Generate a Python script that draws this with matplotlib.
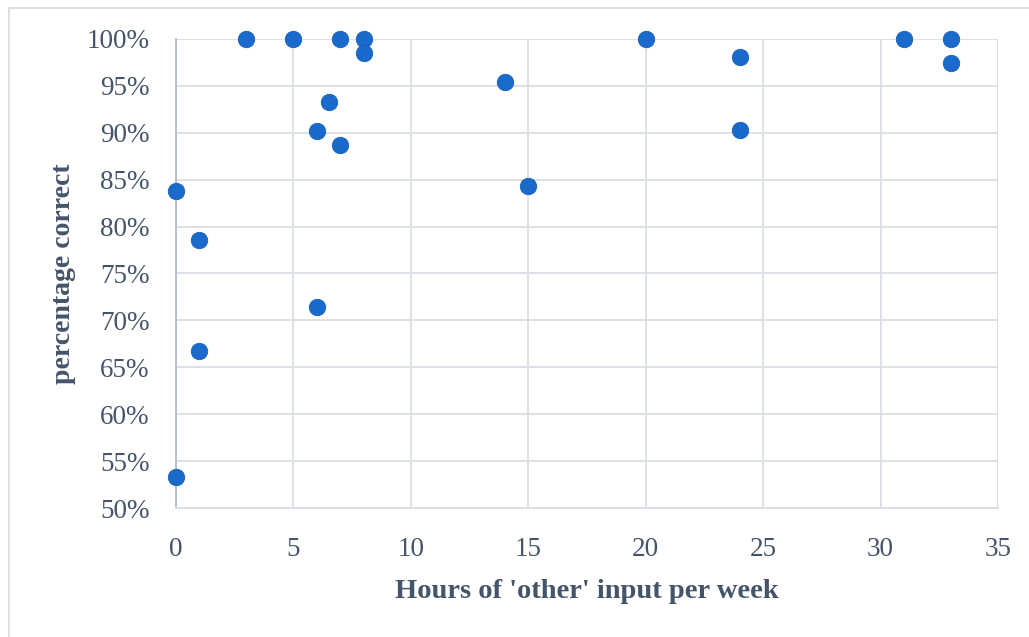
import matplotlib
matplotlib.use('Agg')
import matplotlib.pyplot as plt
from matplotlib.patches import Rectangle
from matplotlib.ticker import FuncFormatter

hours = [3, 5, 7, 8, 8, 6.5, 6, 7, 0, 1, 6, 1, 0, 14, 15, 20, 24, 24, 31, 33, 33]
correct = [100, 100, 100, 100, 98.5, 93.3, 90.2, 88.7, 83.8, 78.6, 71.4, 66.7, 53.3,
           95.4, 84.3, 100, 98.1, 90.3, 100, 100, 97.4]
x_ticks = [0, 5, 10, 15, 20, 25, 30, 35]
y_ticks = [50, 55, 60, 65, 70, 75, 80, 85, 90, 95, 100]

txt = '#44546A'
grid_c = '#D9DEE6'

plt.rcParams['font.family'] = ['Liberation Serif', 'DejaVu Serif']

fig = plt.figure(figsize=(10.29, 6.37), dpi=100)
fig.patches.append(Rectangle((9 / 1029, -0.1), 1.2, 1.1 - 8 / 637, transform=fig.transFigure,
                             fill=False, edgecolor='#D9D9D9', linewidth=1.2))

ax = fig.add_axes([176 / 1029, 1 - 508 / 637, 822 / 1029, 469 / 637])
ax.set_xlim(0, 35)
ax.set_ylim(50, 100)
ax.set_xticks(x_ticks)
ax.set_yticks(y_ticks)
ax.yaxis.set_major_formatter(FuncFormatter(lambda v, p: '%d%%' % v))
ax.grid(True, color=grid_c, linewidth=1.3)
ax.set_axisbelow(True)
for s in ['top', 'right']:
    ax.spines[s].set_visible(False)
ax.spines['bottom'].set_color(grid_c)
ax.spines['bottom'].set_linewidth(1.3)
ax.spines['left'].set_color('#AFBBCB')
ax.spines['left'].set_linewidth(1.3)
ax.tick_params(length=0, labelsize=19.5, labelcolor=txt)
ax.tick_params(axis='y', pad=19)
ax.tick_params(axis='x', pad=21)

ax.scatter(hours, correct, s=140, color='#1A6ACB', edgecolors='#1660B8', linewidths=0.6,
           zorder=3, clip_on=False)

ax.set_xlabel("Hours of 'other' input per week", fontsize=20.5, fontweight='bold', color=txt,
              labelpad=12)
ax.set_ylabel('percentage correct', fontsize=20, fontweight='bold', color=txt, labelpad=8)

fig.savefig('out.png', dpi=100)
